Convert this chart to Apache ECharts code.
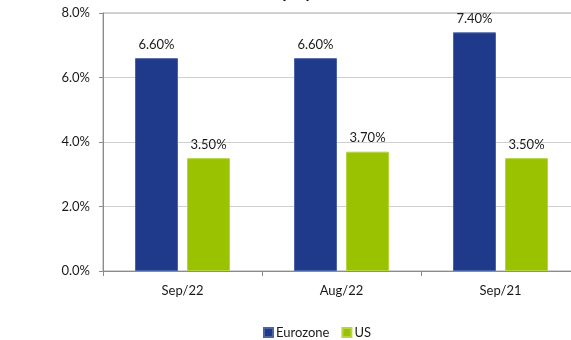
<!DOCTYPE html>
<html>
<head>
<meta charset="utf-8">
<script src="https://cdn.jsdelivr.net/npm/echarts@6/dist/echarts.min.js"></script>
<style>html,body{margin:0;padding:0;background:#fff;overflow:hidden}#c{width:580px;height:340px}</style>
</head>
<body>
<div id="c"></div>
<script>
var categories = ['Sep/22', 'Aug/22', 'Sep/21'];
var eurozone = [6.60, 6.60, 7.40];
var us = [3.50, 3.70, 3.50];
var yTicks = [0, 2, 4, 6, 8];
var seriesNames = ['Eurozone', 'US'];

var chart = echarts.init(document.getElementById('c'), null, {renderer: 'canvas'});
var font = 'Lato, "Open Sans", sans-serif';
var lbl = {
  show: true, position: 'top', distance: 7, color: '#1a1a1a', fontSize: 13, fontFamily: font,
  formatter: function (p) { return p.value.toFixed(2) + '%'; }
};
chart.setOption({
  animation: false,
  backgroundColor: '#fff',
  title: {
    text: 'Unemployment', left: 235, top: -20,
    textStyle: {fontSize: 16, fontWeight: 'bold', color: '#000', fontFamily: font}
  },
  grid: {left: 103, top: 13, right: 0, bottom: 69, containLabel: false,
         show: true, borderColor: '#a6a6a6', borderWidth: 1},
  legend: {
    data: seriesNames, top: 321, left: 258, itemWidth: 9, itemHeight: 9, itemGap: 12,
    icon: 'rect', textStyle: {fontSize: 13, color: '#1a1a1a', fontFamily: font, padding: [0, 0, 0, -2]}
  },
  xAxis: {
    type: 'category', data: categories,
    axisLine: {lineStyle: {color: '#8c8c8c'}},
    axisTick: {show: true, alignWithLabel: false, length: 5, lineStyle: {color: '#8c8c8c'}},
    axisLabel: {color: '#1a1a1a', fontSize: 13, fontFamily: font, margin: 13}
  },
  yAxis: {
    type: 'value', min: yTicks[0], max: yTicks[yTicks.length - 1], interval: 2,
    axisLine: {show: true, lineStyle: {color: '#8c8c8c'}},
    axisTick: {show: true, length: 4, lineStyle: {color: '#8c8c8c'}},
    splitLine: {show: true, lineStyle: {color: '#cfcfcf'}},
    axisLabel: {color: '#1a1a1a', fontSize: 13, fontFamily: font, margin: 13,
      formatter: function (v) { return v.toFixed(1) + '%'; }}
  },
  series: [
    {name: seriesNames[0], type: 'bar', data: eurozone, barWidth: 43, barGap: '21%',
     itemStyle: {color: '#1f3a8a', borderColor: '#4a64a8', borderWidth: 1}, label: lbl},
    {name: seriesNames[1], type: 'bar', data: us, barWidth: 43,
     itemStyle: {color: '#9bc200', borderColor: '#b5d640', borderWidth: 1}, label: lbl}
  ]
});
</script>
</body>
</html>
